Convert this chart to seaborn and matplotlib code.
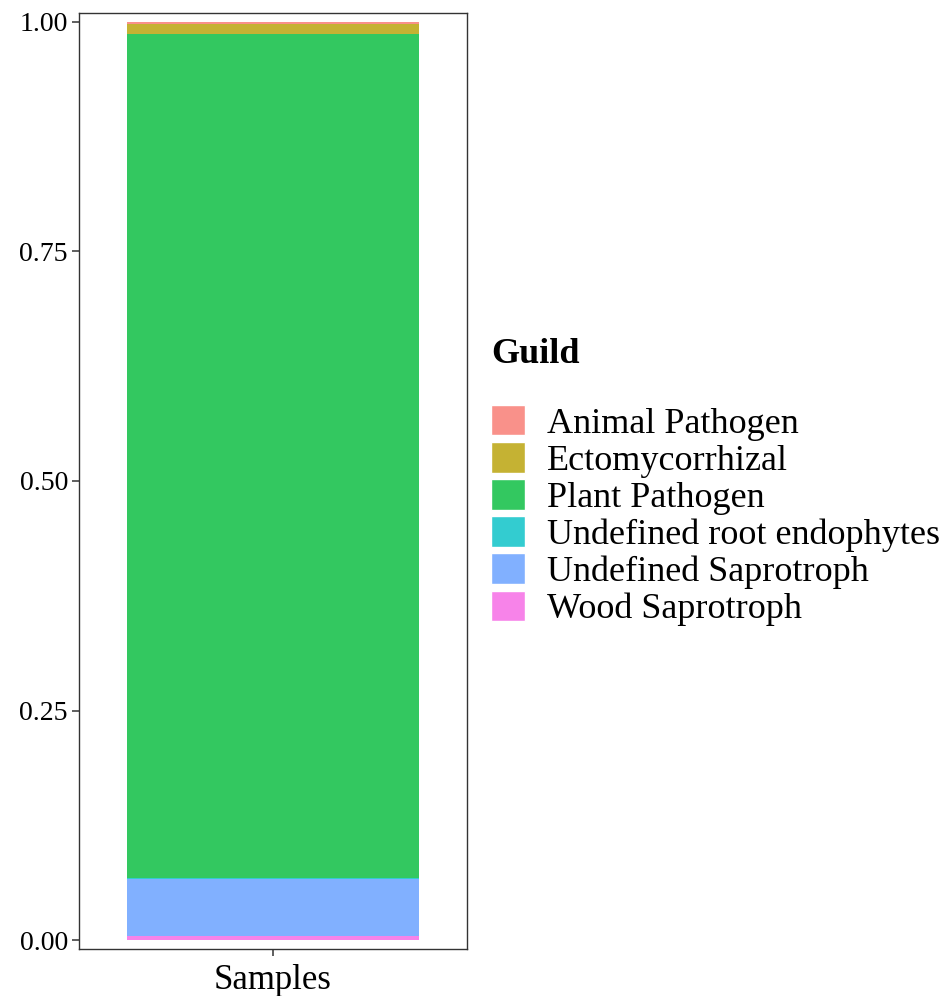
import numpy as np
import pandas as pd
import matplotlib
matplotlib.use("Agg")
import matplotlib.pyplot as plt
from matplotlib.patches import Patch
import seaborn as sns

# ===============================
# DATA (relative abundance per guild)
# ===============================
guilds = ["Animal Pathogen", "Ectomycorrhizal", "Plant Pathogen",
          "Undefined root endophytes", "Undefined Saprotroph", "Wood Saprotroph"]
abundance = [0.0025, 0.011, 0.919, 0.0015, 0.062, 0.004]
sample = "Samples"
# ggplot hue colours with alpha 0.8 over white
colors = ["#F9918A", "#C5B233", "#33C860", "#33CCD0", "#81B0FF", "#F783E9"]
yticks = [0.00, 0.25, 0.50, 0.75, 1.00]

sns.set_style("white")
plt.rcParams["font.family"] = ["Liberation Serif", "DejaVu Serif"]
plt.rcParams["text.color"] = "black"

df = pd.DataFrame({"guild": guilds, "value": abundance, "sample": sample})
# ggplot stacks first level on top -> cumulative from the bottom (last level)
df["top"] = df["value"][::-1].cumsum()[::-1]

fig = plt.figure(figsize=(9.48, 9.96), dpi=100)
ax = fig.add_axes([79 / 948, 1 - 949 / 996, (467 - 79) / 948, (949 - 13) / 996])

# draw tallest cumulative bar first, smaller ones on top
for i in range(len(df)):
    row = df.iloc[[i]]
    sns.barplot(data=row, x="sample", y="top", color=colors[i], width=0.9,
                saturation=1, linewidth=0, ax=ax)

ax.set_xlim(-0.6, 0.6)
ax.set_ylim(-0.0098, 1.0098)
ax.set_yticks(yticks)
ax.set_yticklabels([f"{t:.2f}" for t in yticks])
ax.set_xlabel("")
ax.set_ylabel("")
ax.tick_params(axis="y", labelsize=20, length=5, width=1.1, color="#333333",
               left=True, pad=3, labelcolor="black")
ax.tick_params(axis="x", labelsize=25, length=5, width=1.1, color="#333333",
               bottom=True, pad=6, labelcolor="black")
for s in ax.spines.values():
    s.set_visible(True)
    s.set_color("#333333")
    s.set_linewidth(1)

# legend
fig.text(491 / 948, 1 - 363 / 996, "Guild", fontsize=26, fontweight="bold",
         va="baseline", ha="left")
handles = [Patch(facecolor=c, edgecolor="white", linewidth=1) for c in colors]
fig.legend(handles, guilds, loc="upper left",
           bbox_to_anchor=(491 / 948, 1 - 405 / 996), frameon=False,
           fontsize=26, borderpad=0, handlelength=0.95, handleheight=0.92,
           handletextpad=0.6, labelspacing=0.04, borderaxespad=0)

plt.savefig("out.png", dpi=100)
